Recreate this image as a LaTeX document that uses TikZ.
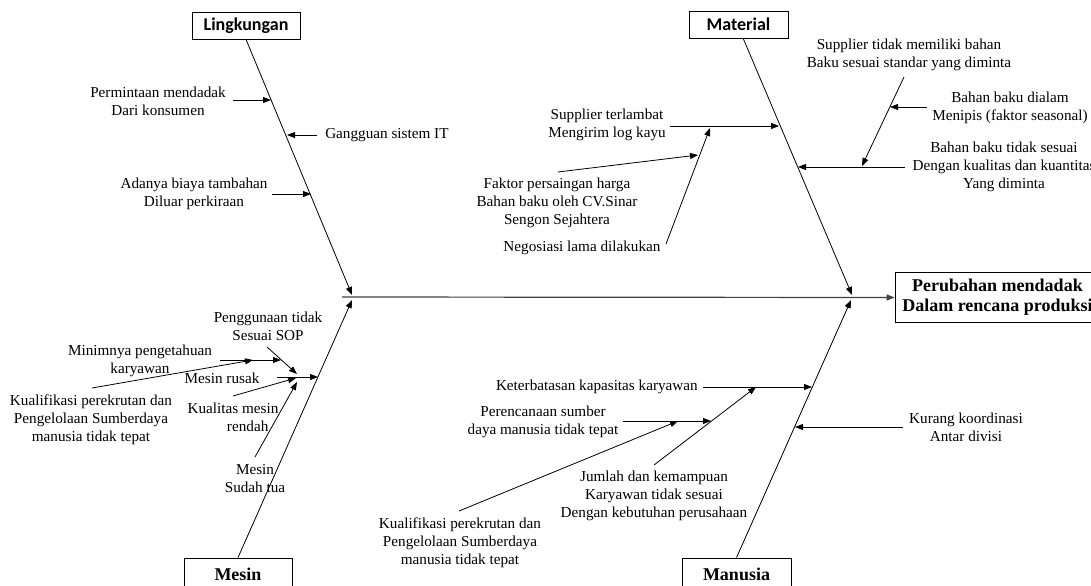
\documentclass[tikz,border=0pt]{standalone}
\usepackage{fontspec}
\setmainfont{Liberation Serif}
\newfontfamily\calib{Carlito}
\usetikzlibrary{arrows.meta}
\begin{document}
\begin{tikzpicture}[x=0.75pt,y=-0.75pt,
  txt/.style={font=\fontsize{11.4}{13.5}\selectfont, align=center, inner sep=0pt},
  cbox/.style={draw, line width=0.6pt, minimum height=20.25pt, inner sep=0pt, font=\calib\bfseries\fontsize{13.5}{16}\selectfont},
  sbox/.style={draw, line width=0.6pt, inner sep=0pt, font=\bfseries\fontsize{13.5}{16}\selectfont},
  arr/.style={-{Triangle[length=6pt,width=4.5pt]}, line width=0.6pt},
  spine/.style={-{Triangle[length=6pt,width=4.5pt]}, line width=0.9pt, draw=black!75},
  ]
\useasboundingbox (0,0) rectangle (1091,585);
% category boxes
\node[cbox, minimum width=81pt] (ling) at (246,25.5) {Lingkungan};
\node[cbox, minimum width=74.25pt] (mat) at (738.5,24.5) {Material};
\node[sbox, minimum width=81pt, minimum height=24pt] (mes) at (238,574) {Mesin};
\node[sbox, minimum width=81.75pt, minimum height=24pt] (man) at (736.5,574) {Manusia};
\node[sbox, minimum width=153.75pt, minimum height=37.5pt, align=center, font=\bfseries\fontsize{13.5}{15}\selectfont] (eff) at (997.5,297.5) {Perubahan mendadak\\Dalam rencana produksi};
% main coordinates
\coordinate (matS) at (743,38);
\coordinate (lingT) at (352,295);
\coordinate (matT) at (852,295);
\coordinate (mesT) at (352,300);
\coordinate (manT) at (851,300);
\coordinate (spS) at (342,297);
\draw[spine] (spS) -- (eff.west);
\draw[arr] (ling.south) -- (lingT);
\draw[arr] (matS) -- (matT);
\draw[arr] (mes.north) -- (mesT);
\draw[arr] (man.north) -- (manT);
% Lingkungan causes
\node[txt] (l1) at (158,101) {Permintaan mendadak\\Dari konsumen};
\coordinate (l1a) at (233,100); \coordinate (l1b) at (271,100);
\draw[arr] (l1a) -- (l1b);
\node[txt, anchor=west] (l2) at (325,135) {Gangguan sistem IT};
\coordinate (l2a) at (317,135); \coordinate (l2b) at (287,135);
\draw[arr] (l2a) -- (l2b);
\node[txt] (l3) at (194,194) {Adanya biaya tambahan\\Diluar perkiraan};
\coordinate (l3a) at (272,194); \coordinate (l3b) at (311,194);
\draw[arr] (l3a) -- (l3b);
% Material causes
\node[txt] (m1) at (607,125) {Supplier terlambat\\Mengirim log kayu};
\coordinate (m1a) at (670,126); \coordinate (m1b) at (779,126);
\draw[arr] (m1a) -- (m1b);
\node[txt] (m2) at (557,203) {Faktor persaingan harga\\Bahan baku oleh CV.Sinar\\Sengon Sejahtera};
\coordinate (m2a) at (558,172); \coordinate (m2b) at (698,155);
\draw[arr] (m2a) -- (m2b);
\node[txt] (m3) at (582,248) {Negosiasi lama dilakukan};
\coordinate (m3a) at (666,244); \coordinate (m3b) at (710,128);
\draw[arr] (m3a) -- (m3b);
\node[txt] (m4) at (909,54.5) {Supplier tidak memiliki bahan\\Baku sesuai standar yang diminta};
\coordinate (m4a) at (904,77); \coordinate (m4b) at (862,166);
\draw[arr] (m4a) -- (m4b);
\node[txt] (m5) at (1010,108) {Bahan baku dialam\\Menipis (faktor seasonal)};
\coordinate (m5a) at (927,107); \coordinate (m5b) at (890,107);
\draw[arr] (m5a) -- (m5b);
\node[txt] (m6) at (1004,167) {Bahan baku tidak sesuai\\Dengan kualitas dan kuantitas\\Yang diminta};
\coordinate (m6a) at (905,167); \coordinate (m6b) at (798,167);
\draw[arr] (m6a) -- (m6b);
% Manusia causes
\node[txt, anchor=east] (u1) at (698,387) {Keterbatasan kapasitas karyawan};
\coordinate (u1a) at (703,387); \coordinate (u1b) at (812,387);
\draw[arr] (u1a) -- (u1b);
\node[txt] (u2) at (543,421.5) {Perencanaan sumber\\daya manusia tidak tepat};
\coordinate (u2a) at (623,421); \coordinate (u2b) at (711,421);
\draw[arr] (u2a) -- (u2b);
\node[txt] (u3) at (460,543) {Kualifikasi perekrutan dan\\Pengelolaan Sumberdaya\\manusia tidak tepat};
\coordinate (u3a) at (459,511); \coordinate (u3b) at (678,421);
\draw[arr] (u3a) -- (u3b);
\node[txt] (u4) at (654,496) {Jumlah dan kemampuan\\Karyawan tidak sesuai\\Dengan kebutuhan perusahaan};
\coordinate (u4a) at (654,465); \coordinate (u4b) at (756,387);
\draw[arr] (u4a) -- (u4b);
\node[txt] (u5) at (966,427) {Kurang koordinasi\\Antar divisi};
\coordinate (u5a) at (903,427); \coordinate (u5b) at (795,427);
\draw[arr] (u5a) -- (u5b);
% Mesin causes
\node[txt] (s1) at (140,361) {Minimnya pengetahuan\\karyawan};
\coordinate (s1a) at (220,360); \coordinate (s1b) at (281,360);
\draw[arr] (s1a) -- (s1b);
\node[txt] (s2) at (91,419.5) {Kualifikasi perekrutan dan\\Pengelolaan Sumberdaya\\manusia tidak tepat};
\coordinate (s2a) at (92,388); \coordinate (s2b) at (253,360);
\draw[arr] (s2a) -- (s2b);
\node[txt] (s3) at (268,326) {Penggunaan tidak\\Sesuai SOP};
\coordinate (s3a) at (267,347); \coordinate (s3b) at (297,374);
\draw[arr] (s3a) -- (s3b);
\node[txt] (s4) at (222,378) {Mesin rusak};
\coordinate (s4a) at (277,377); \coordinate (s4b) at (318,377);
\draw[arr] (s4a) -- (s4b);
\node[txt] (s5) at (233,417) {Kualitas mesin\\\hspace*{22pt}rendah};
\coordinate (s5a) at (233,396); \coordinate (s5b) at (296,378);
\draw[arr] (s5a) -- (s5b);
\node[txt] (s6) at (255,479) {Mesin\\Sudah tua};
\coordinate (s6a) at (255,457); \coordinate (s6b) at (297,382);
\draw[arr] (s6a) -- (s6b);
\end{tikzpicture}
\end{document}
